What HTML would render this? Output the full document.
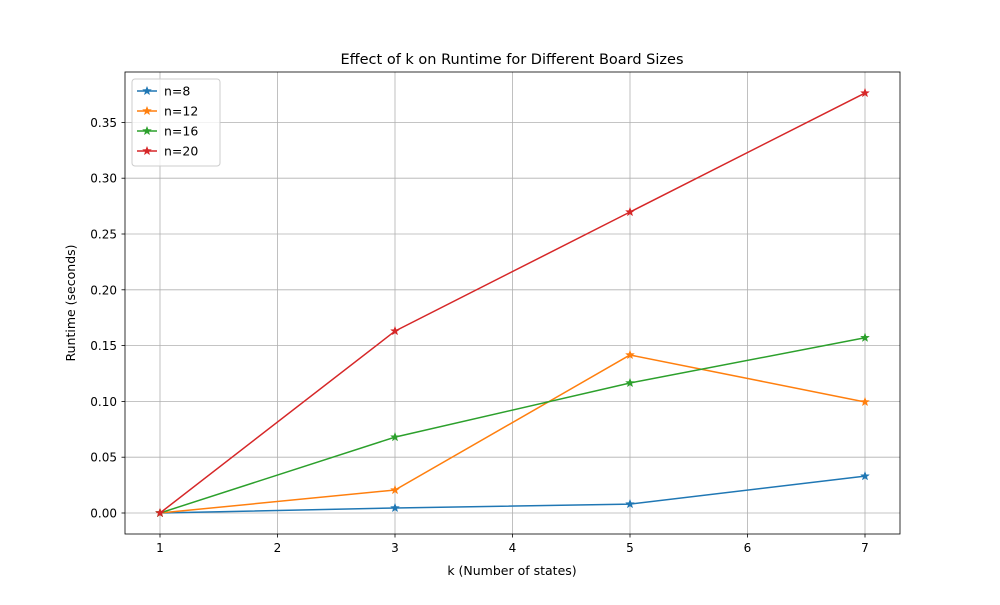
<!DOCTYPE html>
<html><head><meta charset="utf-8"><style>
body{margin:0;background:#fff;font-family:"Liberation Sans","DejaVu Sans",sans-serif;}
svg text{font-family:"DejaVu Sans","Liberation Sans",sans-serif;}
</style></head><body>
<svg id="chart" width="1000" height="600" xmlns="http://www.w3.org/2000/svg">
<rect width="1000" height="600" fill="#fff"/>
<g id="grid"></g>
<g id="axes"></g>
<g id="series"></g>
<rect x="125" y="72" width="775" height="462" fill="none" stroke="#000" stroke-width="0.8"/>
<text x="512" y="64" text-anchor="middle" font-size="14.5">Effect of k on Runtime for Different Board Sizes</text>
<text x="512" y="575" text-anchor="middle" font-size="12.5">k (Number of states)</text>
<text transform="translate(75,303) rotate(-90)" text-anchor="middle" font-size="12.5">Runtime (seconds)</text>
<g id="legend"></g>
</svg>
<script>
const kValues=[1,3,5,7];
const n8=[0,0.0045,0.008,0.033];
const n12=[0,0.0206,0.1416,0.0995];
const n16=[0,0.068,0.1165,0.157];
const n20=[0,0.163,0.2697,0.3763];
const seriesNames=["n=8","n=12","n=16","n=20"];
const xTicks=[1,2,3,4,5,6,7];
const yTicks=[0,0.05,0.10,0.15,0.20,0.25,0.30,0.35];
const colors=["#1f77b4","#ff7f0e","#2ca02c","#d62728"];
const NS="http://www.w3.org/2000/svg";
const xs=v=>160+(v-1)*117.5;
const ys=v=>513-v*1116;
function mk(t,a,p){const e=document.createElementNS(NS,t);for(const k in a)e.setAttribute(k,a[k]);p.appendChild(e);return e;}
const grid=document.getElementById('grid'),axes=document.getElementById('axes'),ser=document.getElementById('series'),leg=document.getElementById('legend');
xTicks.forEach(t=>{const x=xs(t);
const g=mk('line',{x1:x,x2:x,y1:72,y2:534,stroke:'#b0b0b0','stroke-width':0.8},grid);


mk('line',{x1:x,x2:x,y1:534,y2:537.5,stroke:'#000','stroke-width':0.8},axes);
const tx=mk('text',{x:x,y:552,'text-anchor':'middle','font-size':12},axes);tx.textContent=t;

});
yTicks.forEach(t=>{const y=ys(t);
const g=mk('line',{x1:125,x2:900,y1:y,y2:y,stroke:'#b0b0b0','stroke-width':0.8},grid);


mk('line',{x1:121.5,x2:125,y1:y,y2:y,stroke:'#000','stroke-width':0.8},axes);
const tx=mk('text',{x:117,y:y+4.5,'text-anchor':'end','font-size':12},axes);tx.textContent=t.toFixed(2);

});
function star(cx,cy,r,c,p){let pts=[];for(let i=0;i<10;i++){const a=-Math.PI/2+i*Math.PI/5,rr=i%2?r*0.4:r;pts.push((cx+rr*Math.cos(a)).toFixed(1)+','+(cy+rr*Math.sin(a)).toFixed(1));}
return mk('polygon',{points:pts.join(' '),fill:c,stroke:c,'stroke-width':0.5},p);}
[n8,n12,n16,n20].forEach((d,i)=>{
const l=mk('polyline',{points:d.map((v,j)=>xs(kValues[j])+','+ys(v)).join(' '),fill:'none',stroke:colors[i],'stroke-width':1.5},ser);


d.forEach((v,j)=>{const s=star(xs(kValues[j]),ys(v),4.5,colors[i],ser);

});
});
const lb=mk('rect',{x:132,y:79,width:88,height:87,rx:3,fill:'#fff','fill-opacity':0.8,stroke:'#ccc'},leg);


seriesNames.forEach((n,i)=>{const y=91+i*20;
const g=mk('g',{},leg);


mk('line',{x1:137,x2:157,y1:y,y2:y,stroke:colors[i],'stroke-width':1.5},g);
star(147,y,4.5,colors[i],g);
const t=mk('text',{x:164,y:y+4.5,'font-size':12.5},g);t.textContent=n;});
</script>
</body></html>
